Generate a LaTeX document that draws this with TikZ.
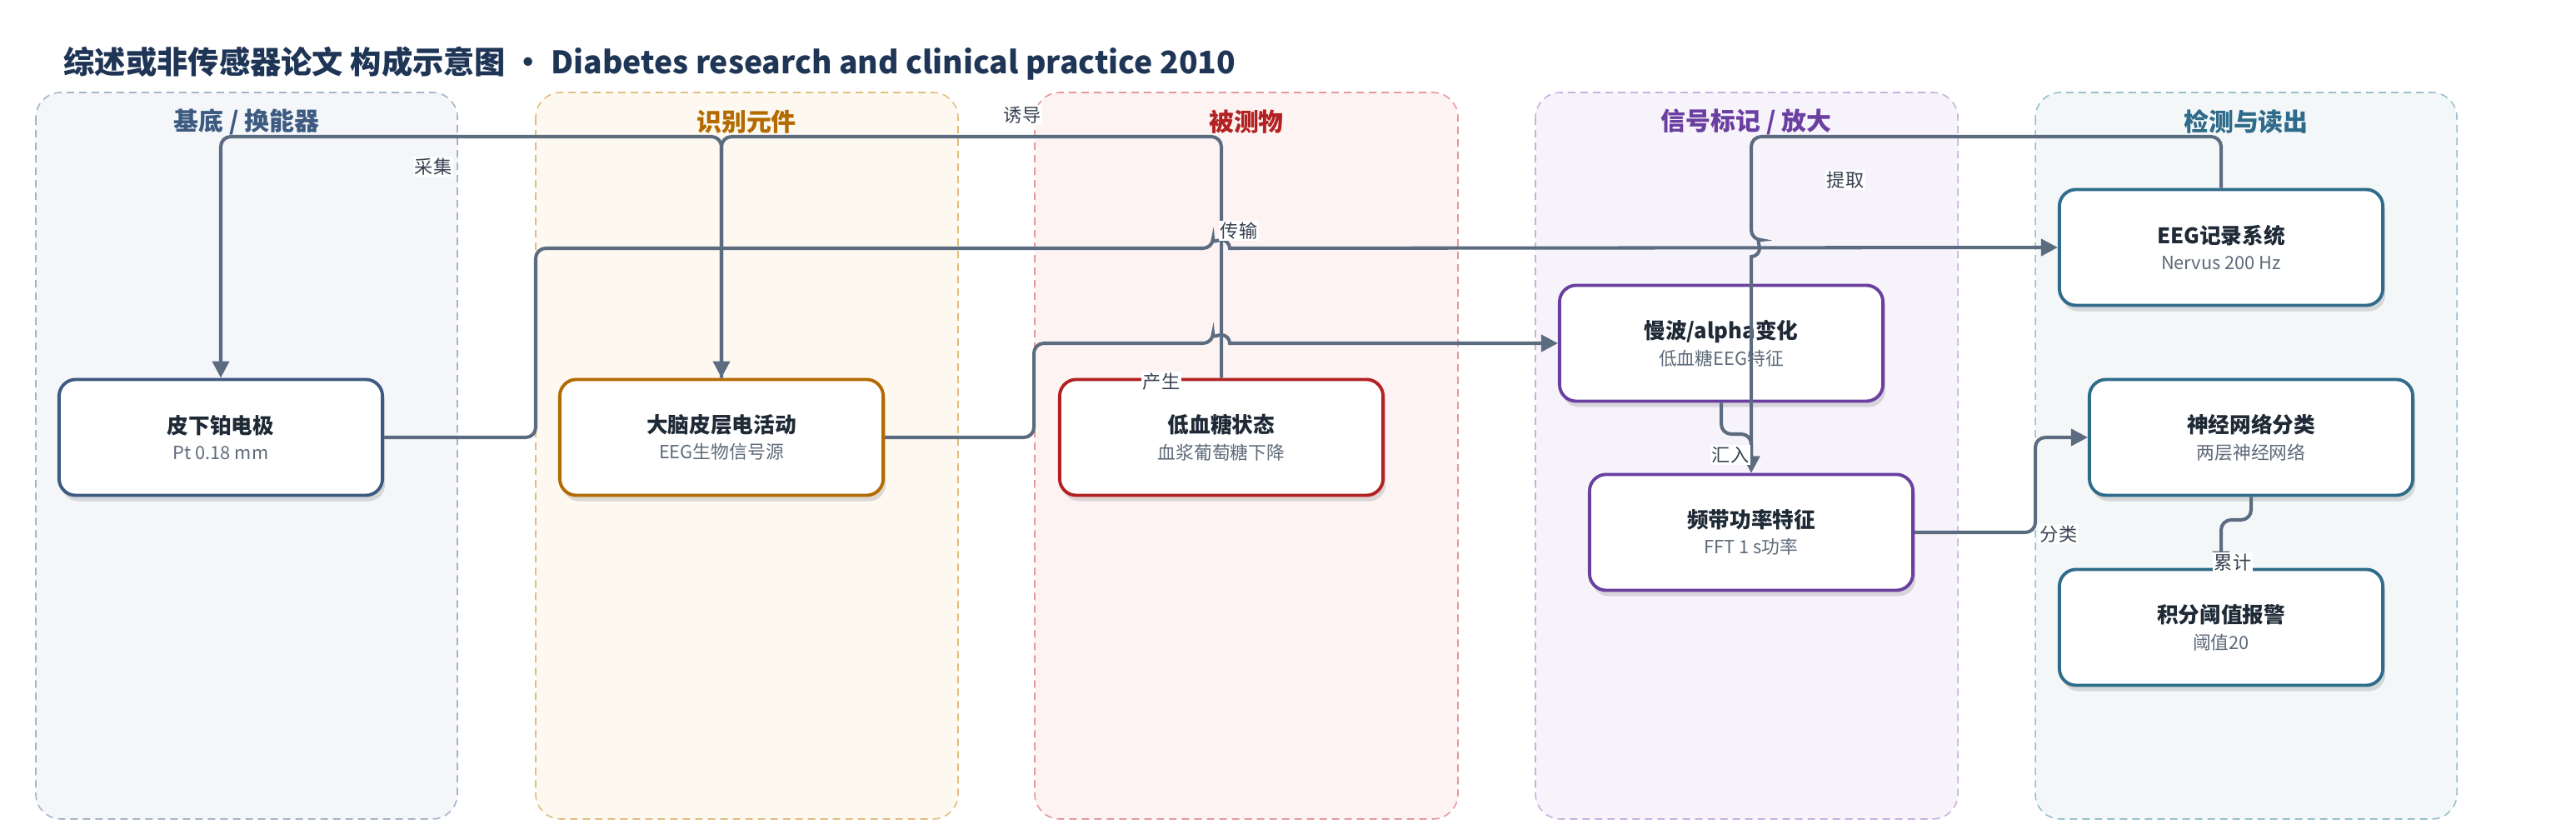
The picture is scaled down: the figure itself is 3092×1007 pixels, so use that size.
\documentclass[tikz,border=0pt]{standalone}
\usepackage{fontspec}
\setmainfont{Noto Sans CJK SC}
\usetikzlibrary{arrows.meta,positioning,calc,shadows}
\definecolor{headc}{HTML}{1F3556}
\definecolor{inkc}{HTML}{1F2A37}
\definecolor{subc}{HTML}{5F6B7A}
\definecolor{linec}{HTML}{5B6B80}
\definecolor{labc}{HTML}{374151}
% lanes: border, fill, title / box colour
\definecolor{laneAb}{HTML}{A6B4C8}\definecolor{laneAf}{HTML}{F4F6FA}\definecolor{laneAc}{HTML}{3D5A80}
\definecolor{laneBb}{HTML}{E2BD80}\definecolor{laneBf}{HTML}{FDF8F0}\definecolor{laneBc}{HTML}{B36B00}
\definecolor{laneCb}{HTML}{E49A9A}\definecolor{laneCf}{HTML}{FDF3F2}\definecolor{laneCc}{HTML}{B22222}
\definecolor{laneDb}{HTML}{C8B0E0}\definecolor{laneDf}{HTML}{F6F3FB}\definecolor{laneDc}{HTML}{6B3FA0}
\definecolor{laneEb}{HTML}{98C0CC}\definecolor{laneEf}{HTML}{F3F7F8}\definecolor{laneEc}{HTML}{2F6B8A}
\newcommand{\blocktxt}[2]{{\bfseries\color{inkc}#1}\\{\fontsize{6.2}{9}\selectfont\color{subc}#2}}

\begin{document}
\begin{tikzpicture}[x=0.01cm, y=-0.01cm,
  lane/.style={draw=#1, dash pattern=on 0.09cm off 0.06cm, line width=0.45pt, rounded corners=0.3cm},
  lanetitle/.style={font=\fontsize{8.5}{10}\selectfont\bfseries, text=#1},
  blk/.style={draw=#1, line width=1.1pt, fill=white, rounded corners=0.2cm, minimum width=3.88cm, minimum height=1.39cm,
    align=center, font=\fontsize{7.3}{9}\selectfont, drop shadow={shadow xshift=0.03cm, shadow yshift=-0.07cm, opacity=0.18, fill=black!70}},
  conn/.style={draw=linec, line width=1.15pt, rounded corners=0.12cm, -{Triangle[length=0.2cm,width=0.2cm]}},
  elabel/.style={fill=white, inner sep=0.5pt, text=labc, font=\fontsize{6.3}{7}\selectfont}]
  \useasboundingbox (0,0) rectangle (3092,1007);

  % Title
  \node[anchor=base west, inner sep=0pt, text=headc, font=\fontsize{10.6}{13}\selectfont\bfseries] (title) at (76,89)
    {综述或非传感器论文 构成示意图 • Diabetes research and clinical practice 2010};

  % Lanes
  \draw[lane=laneAb, fill=laneAf] (43,111) rectangle (549,983);
  \draw[lane=laneBb, fill=laneBf] (643,111) rectangle (1150,983);
  \draw[lane=laneCb, fill=laneCf] (1242,111) rectangle (1750,983);
  \draw[lane=laneDb, fill=laneDf] (1843,111) rectangle (2350,983);
  \draw[lane=laneEb, fill=laneEf] (2443,111) rectangle (2949,983);
  \node[lanetitle=laneAc] (tA) at (296,146) {基底 / 换能器};
  \node[lanetitle=laneBc] (tB) at (896,146) {识别元件};
  \node[lanetitle=laneCc] (tC) at (1496,146) {被测物};
  \node[lanetitle=laneDc] (tD) at (2096,146) {信号标记 / 放大};
  \node[lanetitle=laneEc] (tE) at (2696,146) {检测与读出};

  % Blocks
  \node[blk=laneAc] (electrode) at (265,525) {\blocktxt{皮下铂电极}{Pt 0.18 mm}};
  \node[blk=laneBc] (cortex) at (866,525) {\blocktxt{大脑皮层电活动}{EEG生物信号源}};
  \node[blk=laneCc] (hypo) at (1466,525) {\blocktxt{低血糖状态}{血浆葡萄糖下降}};
  \node[blk=laneDc] (wave) at (2066,412) {\blocktxt{慢波/alpha变化}{低血糖EEG特征}};
  \node[blk=laneDc] (bandpow) at (2102,639) {\blocktxt{频带功率特征}{FFT 1 s功率}};
  \node[blk=laneEc] (recorder) at (2666,297) {\blocktxt{EEG记录系统}{Nervus 200 Hz}};
  \node[blk=laneEc] (classifier) at (2702,525) {\blocktxt{神经网络分类}{两层神经网络}};
  \node[blk=laneEc] (alarm) at (2666,753) {\blocktxt{积分阈值报警}{阈值20}};

  % Routing points
  \coordinate (bus) at (0,164);
  \coordinate (relay) at (643,298);
  \coordinate (prod) at (1241,412);
  \coordinate (merge) at (2100,521);
  \coordinate (sortc) at (2443,525);
  \coordinate (sumc) at (2680,624);

  % Connectors
  \draw[conn] (cortex.north) -- (cortex.north |- bus) -| (electrode.north);
  \draw[conn] (hypo.north) -- (hypo.north |- bus) -| (cortex.north);
  \draw[conn] (electrode.east) -| (relay) -- ($(hypo.north |- relay)+(-10,0)$)
    [sharp corners] arc[start angle=180, end angle=0, radius=0.1cm] -- (recorder.west);
  \draw[conn] (cortex.east) -| (prod) -- ($(hypo.north |- prod)+(-10,0)$)
    [sharp corners] arc[start angle=180, end angle=0, radius=0.1cm] -- (wave.west);
  \draw[conn] (recorder.north) -- (recorder.north |- bus) -- (bandpow.north |- bus) -- ($(bandpow.north |- relay)+(0,-10)$)
    [sharp corners] arc[start angle=90, end angle=-90, radius=0.1cm] -- (bandpow.north);
  \draw[conn] (wave.south) -- (wave.south |- merge) -| (bandpow.north);
  \draw[conn] (bandpow.east) -| (sortc) -- (classifier.west);
  \draw[conn] (classifier.south) -- (classifier.south |- sumc) -| (alarm.north);

  % Connector labels
  \node[elabel] (lcollect) at (520,200) {采集};
  \node[elabel] (linduce) at (1227,138) {诱导};
  \node[elabel] (lsend) at (1487,277) {传输};
  \node[elabel] (lmake) at (1394,458) {产生};
  \node[elabel] (lpick) at (2215,216) {提取};
  \node[elabel] (lmerge) at (2077,546) {汇入};
  \node[elabel] (lsort) at (2471,641) {分类};
  \node[elabel] (lsum) at (2680,675) {累计};
\end{tikzpicture}
\end{document}
